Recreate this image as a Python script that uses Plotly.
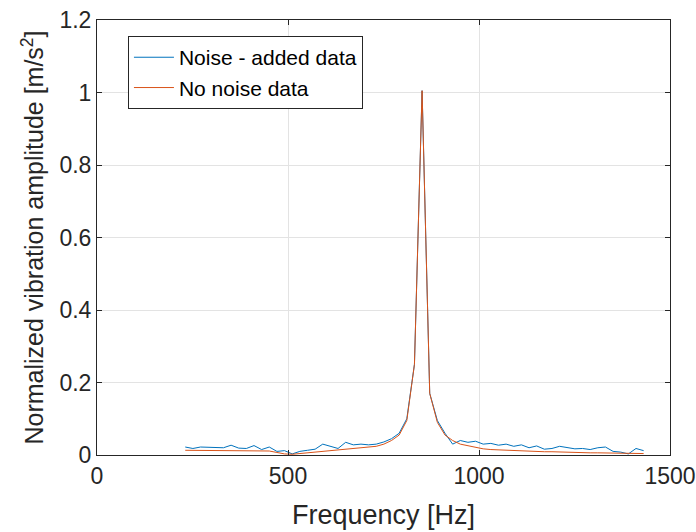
import plotly.graph_objects as go

freq_hz = [231, 251, 271, 291, 311, 331, 351, 371, 391, 411,
           431, 451, 471, 491, 511, 531, 551, 571, 591, 611,
           631, 651, 671, 691, 711, 731, 751, 771, 791, 811,
           831, 851, 871, 891, 911, 931, 951, 971, 991, 1011,
           1031, 1051, 1071, 1091, 1111, 1131, 1151, 1171, 1191, 1211,
           1231, 1251, 1271, 1291, 1311, 1331, 1351, 1371, 1391, 1411,
           1431]

noise_added = [0.022, 0.018, 0.022, 0.021, 0.022, 0.020, 0.027, 0.019, 0.018, 0.026,
               0.015, 0.022, 0.010, 0.012, 0.003, 0.010, 0.013, 0.016, 0.030, 0.025,
               0.018, 0.035, 0.028, 0.030, 0.028, 0.030, 0.036, 0.045, 0.060, 0.100,
               0.250, 1.005, 0.170, 0.095, 0.060, 0.030, 0.040, 0.035, 0.038, 0.030,
               0.032, 0.027, 0.030, 0.024, 0.028, 0.020, 0.025, 0.016, 0.018, 0.024,
               0.020, 0.017, 0.018, 0.015, 0.020, 0.022, 0.010, 0.008, 0.003, 0.018,
               0.012]

no_noise = [0.013, 0.013, 0.013, 0.013, 0.013, 0.013, 0.013, 0.013, 0.013, 0.013,
            0.012, 0.011, 0.007, 0.003, 0.002, 0.004, 0.006, 0.008, 0.010, 0.012,
            0.014, 0.016, 0.018, 0.019, 0.021, 0.024, 0.030, 0.040, 0.055, 0.095,
            0.250, 1.005, 0.170, 0.090, 0.055, 0.040, 0.030, 0.025, 0.020, 0.017,
            0.015, 0.014, 0.013, 0.012, 0.011, 0.010, 0.010, 0.009, 0.009, 0.008,
            0.008, 0.007, 0.007, 0.006, 0.006, 0.006, 0.005, 0.005, 0.005, 0.004,
            0.004]

x_ticks = [0, 500, 1000, 1500]
y_ticks = [0, 0.2, 0.4, 0.6, 0.8, 1, 1.2]
y_tick_text = ["0", "0.2", "0.4", "0.6", "0.8", "1", "1.2"]

FONT = "Liberation Sans, Arial, sans-serif"
TXT = "#262626"

fig = go.Figure()
fig.add_trace(go.Scatter(x=freq_hz, y=noise_added, mode="lines",
                         name="Noise - added data",
                         line=dict(color="#0072BD", width=1)))
fig.add_trace(go.Scatter(x=freq_hz, y=no_noise, mode="lines",
                         name="No noise data",
                         line=dict(color="#D95319", width=1)))

axis_common = dict(
    showline=True, linecolor="#262626", linewidth=1, mirror="allticks",
    ticks="inside", ticklen=5, tickcolor="#262626",
    showgrid=True, gridcolor="#e3e3e3", gridwidth=1, automargin=False,
    zeroline=False, tickfont=dict(family=FONT, size=23, color=TXT),
)

fig.update_xaxes(range=[0, 1500], tickvals=x_ticks,
                 title=dict(text="Frequency [Hz]", font=dict(family=FONT, size=27, color=TXT), standoff=17),
                 **axis_common)
fig.update_yaxes(range=[0, 1.2], tickvals=y_ticks, ticktext=y_tick_text,
                 title=dict(text="Normalized vibration amplitude [m/s<sup>2</sup>]",
                            font=dict(family=FONT, size=25, color=TXT), standoff=8),
                 **axis_common)

fig.update_layout(
    width=696, height=532,
    margin=dict(l=97, r=26, t=20, b=77),
    paper_bgcolor="white", plot_bgcolor="white",
    font=dict(family=FONT, color=TXT),
    showlegend=True,
    legend=dict(x=0.054, y=0.963, xanchor="left", yanchor="top",
                bgcolor="white", bordercolor="#262626", borderwidth=1,
                font=dict(family=FONT, size=21, color="#000000"),
                tracegroupgap=0, itemwidth=40),
)

fig.write_html("out.html")
